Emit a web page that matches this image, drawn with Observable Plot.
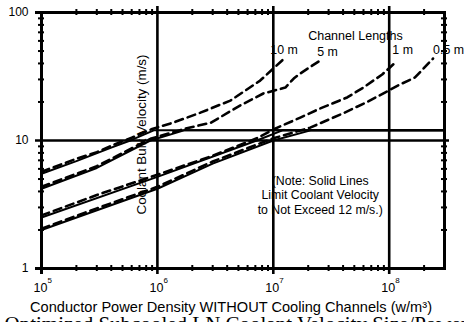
<!DOCTYPE html>
<html><head><meta charset="utf-8">
<script src="https://cdn.jsdelivr.net/npm/d3@7"></script>
<script src="https://cdn.jsdelivr.net/npm/@observablehq/plot@0.6"></script>
<style>html,body{margin:0;padding:0;background:#fff;}</style>
</head><body><div id="chart"></div>
<script>
const FONT = '"Liberation Sans", Arial, Helvetica, sans-serif';
const SERIF = '"Liberation Serif", "Times New Roman", serif';

// Channel lengths
const seriesNames = ["10 m", "5 m", "1 m", "0.5 m"];

// Solid lines: velocity limited to 12 m/s (power density W/m^3, velocity m/s)
const capped10mP = [1e5, 2e5, 4e5, 6e5, 9.3e5, 2.9e8];
const capped10mV = [5.5, 6.9, 8.8, 10.1, 12, 12];
const capped5mP  = [1e5, 3e5, 8.7e5, 1.7e6, 2.9e8];
const capped5mV  = [4.2, 6.1, 10, 12, 12];
const capped1mP  = [1e5, 1e6, 7.2e6, 1.2e7, 2.9e8];
const capped1mV  = [2.5, 5.2, 10, 12, 12];
const capped05mP = [1e5, 1e6, 3e6, 1e7, 2.1e7, 2.9e8];
const capped05mV = [2.0, 4.2, 6.6, 10, 12, 12];

// Dashed lines: unlimited velocity
const free10mP = [1e5, 2e5, 3e5, 4e5, 6e5, 9e5, 1.37e6, 2.35e6, 4.26e6, 7.7e6, 1.27e7];
const free10mV = [5.7, 7.2, 8.1, 9.1, 10.5, 12.3, 13.8, 16.5, 20.5, 29.4, 44.5];
const free5mP  = [1e5, 3e5, 8.7e5, 1.7e6, 2.9e6, 5.2e6, 8.2e6, 1.1e7, 1.27e7, 1.5e7, 1.71e7, 2.54e7];
const free5mV  = [4.35, 6.3, 10.3, 12.3, 13.8, 18.8, 23.3, 25, 25.9, 30.5, 33.4, 42.2];
const free1mP  = [1e5, 3e5, 1e6, 3e6, 7.2e6, 1e7, 1.71e7, 2.54e7, 4.34e7, 5.97e7, 8.7e7, 1.13e8];
const free1mV  = [2.6, 3.75, 5.4, 7.6, 10.4, 12.2, 15.1, 17.8, 21.7, 25.9, 32.8, 40.7];
const free05mP = [1e5, 3e5, 1e6, 3e6, 1e7, 2.08e7, 4e7, 6.6e7, 1.24e8, 1.67e8, 2.39e8];
const free05mV = [2.05, 2.95, 4.35, 6.85, 10.4, 12.6, 16.3, 20.2, 27.4, 31.1, 43.7];

// Axis ticks
const xDecades = [1e5, 1e6, 1e7, 1e8];
const xDecadeExponents = ["5", "6", "7", "8"];
const xGrid = [1e6, 1e7, 1e8];
const yMajor = [1, 10, 100];
const yMajorLabels = ["1", "10", "100"];
const minorMultipliers = [2, 3, 4, 5, 6, 7, 8, 9];

const xTitle = "Conductor Power Density WITHOUT Cooling Channels (w/m\u00B3)";
const yTitle = "Coolant Bulk Velocity (m/s)";
const legendTitle = "Channel Lengths";
const noteText = "(Note: Solid Lines\nLimit Coolant Velocity\nto Not Exceed 12 m/s.)";
const caption = "Optimized Subcooled LN Coolant Velocity Size/Power";

const rows = (P, V, name) => P.map((p, i) => ({p, v: V[i], name}));
const solidRows = [
  ...rows(capped10mP, capped10mV, seriesNames[0]),
  ...rows(capped5mP, capped5mV, seriesNames[1]),
  ...rows(capped1mP, capped1mV, seriesNames[2]),
  ...rows(capped05mP, capped05mV, seriesNames[3])
];
const dashedSets = [
  rows(free10mP, free10mV, seriesNames[0]),
  rows(free5mP, free5mV, seriesNames[1]),
  rows(free1mP, free1mV, seriesNames[2]),
  rows(free05mP, free05mV, seriesNames[3])
];
const dashedRows = dashedSets.flat();

const xMinor = xDecades.flatMap(d => minorMultipliers.map(m => d * m)).filter(v => v < 2.9e8);
const yMinor = [1, 10].flatMap(d => minorMultipliers.map(m => d * m));

const labelOffsets = [[-15, -7], [-3, -8], [-3, -12], [0, -8]];

const plot = Plot.plot({
  width: 464,
  height: 322,
  marginLeft: 41,
  marginRight: 20,
  marginTop: 12,
  marginBottom: 54,
  style: {fontFamily: FONT, background: "white", overflow: "visible"},
  x: {type: "log", domain: [1e5, 3e8], axis: null},
  y: {type: "log", domain: [1, 100], axis: null},
  marks: [
    // grid lines
    Plot.ruleX(xGrid, {stroke: "black", strokeWidth: 2.6, insetTop: -6, insetBottom: -6}),
    Plot.ruleX([xDecades[0]], {stroke: "black", strokeWidth: 3, insetBottom: -6}),
    Plot.ruleY([yMajor[1]], {stroke: "black", strokeWidth: 2.6, insetLeft: -6, insetRight: -5}),
    Plot.ruleY([yMajor[0], yMajor[2]], {stroke: "black", strokeWidth: 3, insetLeft: -6}),
    // minor ticks crossing the frame
    Plot.ruleX(xMinor, {x: d => d, y1: 1, y2: 1, insetTop: -3, insetBottom: -3, stroke: "black", strokeWidth: 2}),
    Plot.ruleX(xMinor, {x: d => d, y1: 100, y2: 100, insetTop: -3, insetBottom: -3, stroke: "black", strokeWidth: 2}),
    Plot.ruleY(yMinor, {y: d => d, x1: 1e5, x2: 1e5, insetLeft: -3, insetRight: -3, stroke: "black", strokeWidth: 2}),
    Plot.ruleY(yMinor, {y: d => d, x1: 3e8, x2: 3e8, insetLeft: -3, insetRight: -3, stroke: "black", strokeWidth: 2}),
    Plot.frame({stroke: "black", strokeWidth: 3}),
    // data
    Plot.line(solidRows, {x: "p", y: "v", z: "name", stroke: "black", strokeWidth: 2}),
    Plot.line(dashedRows, {x: "p", y: "v", z: "name", stroke: "black", strokeWidth: 2.6, strokeDasharray: "8,5"}),
    // series labels
    ...dashedSets.map((set, i) => Plot.text([set[set.length - 1]], {
      x: "p", y: "v", text: "name", textAnchor: "start",
      dx: labelOffsets[i][0], dy: labelOffsets[i][1], fontSize: 12.4, fill: "black"
    })),
    Plot.text([legendTitle], {x: 2e7, y: 66, textAnchor: "start", fontSize: 12.5, fill: "black"}),
    // note
    Plot.text([noteText], {x: 2.54e7, y: 3.79, textAnchor: "middle", lineAnchor: "middle",
      lineHeight: 1.18, fontSize: 12.3, fill: "black", ariaLabel: "note"}),
    // y tick labels
    Plot.text(yMajor, {x: 1e5, y: d => d, text: (d, i) => yMajorLabels[i], textAnchor: "end", dx: -13, fontSize: 12, fill: "black"}),
    // x tick labels: 10 with exponent
    Plot.text(xDecades, {x: d => d, frameAnchor: "bottom", text: () => "10", textAnchor: "middle", lineAnchor: "middle", dx: -1, dy: 19, fontSize: 12.5, fill: "black"}),
    Plot.text(xDecades, {x: d => d, frameAnchor: "bottom", text: (d, i) => xDecadeExponents[i], textAnchor: "start", lineAnchor: "middle", dx: 6, dy: 12, fontSize: 8, fill: "black"}),
    // axis titles
    Plot.text([xTitle], {frameAnchor: "bottom", textAnchor: "middle", lineAnchor: "middle", dx: -12, dy: 39, fontSize: 14.6, fill: "black"}),
    Plot.text([yTitle], {frameAnchor: "left", textAnchor: "middle", lineAnchor: "middle", rotate: -90, dx: 100, dy: -6, fontSize: 13.4, fill: "black"}),
    Plot.text([caption], {frameAnchor: "bottom-left", textAnchor: "start", lineAnchor: "top", dx: -37, dy: 48, fontSize: 21, fontFamily: SERIF, fill: "black"})
  ]
});
document.getElementById("chart").append(plot);

// white backing box behind the note (covers the grid lines)
const noteG = plot.querySelector('g[aria-label="note"]');
if (noteG) {
  const bb = noteG.getBBox();
  const r = document.createElementNS("http://www.w3.org/2000/svg", "rect");
  r.setAttribute("x", bb.x - 3);
  r.setAttribute("y", bb.y - 2);
  r.setAttribute("width", bb.width + 12);
  r.setAttribute("height", bb.height + 5);
  r.setAttribute("fill", "white");
  noteG.insertBefore(r, noteG.firstChild);
}
</script>
</body></html>
